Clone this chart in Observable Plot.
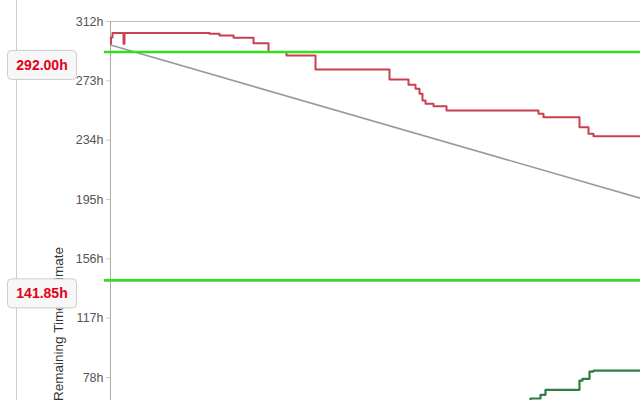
<!DOCTYPE html>
<html>
<head>
<meta charset="utf-8">
<script src="https://cdn.jsdelivr.net/npm/d3@7"></script>
<script src="https://cdn.jsdelivr.net/npm/@observablehq/plot@0.6"></script>
<style>
  html, body { margin: 0; padding: 0; background: #fff; }
  #chart { width: 640px; height: 400px; overflow: hidden; }
</style>
</head>
<body>
<div id="chart"></div>
<script>
// Elapsed time (arbitrary hour units) and remaining estimate (hours)
const remainingT = [0, 0.5, 2, 13, 14, 99, 109, 123, 143, 158, 176, 205, 279, 298, 305, 309, 312, 315, 323, 336, 428, 433, 469, 478, 483, 540];
const remainingV = [297.3, 301.5, 304.5, 297.3, 304.5, 303.9, 302.8, 301.3, 297.7, 292.0, 289.7, 280.4, 273.9, 270.4, 267.8, 264.5, 260.1, 257.9, 256.3, 253.5, 251.3, 249.1, 242.5, 238.2, 236.6, 236.6];

const doneT = [400, 420, 430, 435, 469, 472, 479, 483, 540];
const doneV = [50, 64.2, 66.6, 69.9, 76.0, 77.1, 81.9, 82.6, 82.6];

const idealT = [0, 1560];
const idealV = [296.5, 0];

const limitValues = [292.00, 141.85];
const limitLabels = ["292.00h", "141.85h"];

const yTicks = [312, 273, 234, 195, 156, 117, 78];
const yLabel = "Remaining Time Estimate";

const remaining = remainingT.map((t, i) => ({t, v: remainingV[i]}));
const done = doneT.map((t, i) => ({t, v: doneV[i]}));
const ideal = idealT.map((t, i) => ({t, v: idealV[i]}));

const plot = Plot.plot({
  width: 640,
  height: 400,
  marginLeft: 110,
  marginRight: 0,
  marginTop: 21,
  marginBottom: 0,
  style: {fontFamily: "'Liberation Sans', Arial, sans-serif", fontSize: "12px", background: "#fff"},
  x: {domain: [0, 530], axis: null},
  y: {domain: [62.9, 312], axis: null},
  marks: [
    Plot.ruleY([312], {stroke: "#bbb", strokeWidth: 1}),
    Plot.ruleX([0], {stroke: "#aaa", strokeWidth: 1, y1: 312, y2: 62.9}),
    Plot.axisY({
      ticks: yTicks,
      tickFormat: d => d + "h",
      tickSize: 4,
      tickPadding: 3,
      stroke: "#ccc",
      color: "#555",
      fontSize: 12.5,
      label: null
    }),
    Plot.line(ideal, {x: "t", y: "v", stroke: "#999", strokeWidth: 1.6, clip: true}),
    Plot.line(remaining, {x: "t", y: "v", curve: "step-after", stroke: "#c9404f", strokeWidth: 2, clip: true}),
    Plot.line(done, {x: "t", y: "v", curve: "step-after", stroke: "#2e7d43", strokeWidth: 2.2, clip: true}),
    Plot.ruleY(limitValues, {stroke: "#33dd22", strokeWidth: 2.6, insetLeft: -6}),
    Plot.text([yLabel], {
      frameAnchor: "left",
      dx: -52,
      dy: 113,
      rotate: -90,
      text: d => d,
      fill: "#333",
      fontSize: 13.5,
      textAnchor: "middle"
    })
  ]
});

document.getElementById("chart").appendChild(plot);

const svg = d3.select(plot);
const yScale = plot.scale("y");

// Left panel border line
svg.insert("line", ":first-child")
  .attr("x1", 16.5).attr("x2", 16.5)
  .attr("y1", 0).attr("y2", 400)
  .attr("stroke", "#ccc").attr("stroke-width", 1);

// Limit labels
limitValues.forEach((v, i) => {
  const y = yScale.apply(v);
  const g = svg.append("g").attr("transform", `translate(7.5, ${y - 1})`);
  g.append("rect")
    .attr("width", 69).attr("height", 29)
    .attr("rx", 4).attr("ry", 4)
    .attr("fill", "#f7f7f7")
    .attr("stroke", "#ccc").attr("stroke-width", 1);
  g.append("text")
    .attr("x", 34.5).attr("y", 14.5)
    .attr("text-anchor", "middle")
    .attr("dominant-baseline", "central")
    .attr("fill", "#e3001b")
    .attr("font-weight", "bold")
    .attr("font-size", 14)
    .attr("font-family", "'Liberation Sans', Arial, sans-serif")
    .text(limitLabels[i]);
});
</script>
</body>
</html>
